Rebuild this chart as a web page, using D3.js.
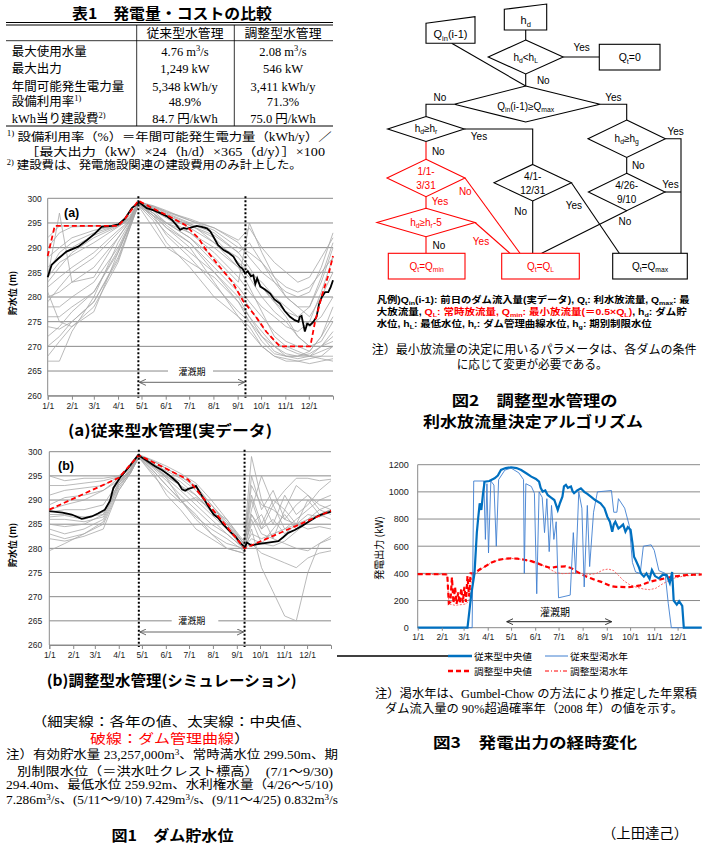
<!DOCTYPE html>
<html><head><meta charset="utf-8">
<script src="https://cdn.jsdelivr.net/npm/d3@7"></script>
<style>body{margin:0;background:#fff}svg{display:block}</style>
</head><body>
<script>
// ---------------- DATA ----------------
const tableLabels = ["最大使用水量","最大出力","年間可能発生電力量","設備利用率^{1)}","kWh当り建設費^{2)}"];
const convValues = ["4.76 m^{3}/s","1,249 kW","5,348 kWh/y","48.9%","84.7  円/kWh"];
const adjValues  = ["2.08 m^{3}/s","546 kW","3,411 kWh/y","71.3%","75.0  円/kWh"];

const monthDays = [0,31,59,90,120,151,181,212,243,273,304,334];
const monthLabels = ["1/1","2/1","3/1","4/1","5/1","6/1","7/1","8/1","9/1","10/1","11/1","12/1"];
const levelTicks = [260,265,270,275,280,285,290,295,300];
const powerTicks = [0,200,400,600,800,1000,1200];
const irrigationDays = [116,253];

// (a) conventional (observed)
const aDays = [0,15,31,59,90,105,116,135,152,182,213,244,258,274,290,305,320,335,350,365];
const aYears = [
 [292,294.4,294.4,294.4,294.5,296,299.3,298.5,297.5,295.5,294,291,288,285,283,281,280,281,286,293],
 [290,293,294.2,294.4,294.6,296.5,299.2,298,296.5,294.5,292,287,285,282,279,277,276,278,284,291],
 [288,290,292,293.5,294.5,296.2,299,297.5,296,293,289,284,281,278,276,274,273,275,281,288],
 [286,288,290,292.5,294.5,296,298.8,297,295,292,288,283,295,289,284,280,278,276,280,285],
 [284,287,288.5,291,294.2,295.8,299,297.8,296.8,294.8,293,289,286,282,279,276,272,270,271,275],
 [282,284,286,289,293.5,295.5,299.4,298.2,297,295,291,286,282,277,272,270,269,268,268,270],
 [280,281,283,286,292,295.3,298.9,296,293,289,285,280,276,272,269,268,267.5,268,270,272],
 [278,278,280,283,290,294.8,298.6,295.5,291,286,280,276,273,270,268,267,267,267.5,268,268],
 [276,276,278,281,289,294.5,298.7,297.5,295,292,287,282,279,276,273,271,270,269,272,278],
 [274,273.5,275,279,288,294,298.5,296.5,294,291,285,279,275,271,268.5,268,268,269,272,276],
 [272,274,277,281,289.5,294.6,299.1,298,296.2,294,291,288,285,283,280,278,276,274,276,280],
 [270,272,275,279,287.5,294,299,297,294,290,283,276,274,270,268,267.5,267,266.5,267,267.5],
 [268,271,274,278,287,293.8,298.8,296.5,295,293,290,286,284,280,277,275,272,270,270,271],
 [267,267,273,280,291,295,299,297.8,296.5,294.5,292.5,289,291,287,283,280,278,278,283,290],
 [284,297,283,284,292,295.5,299,297,294.5,291,286,281,278,274,271,269.5,268.5,268,267.5,267],
 [285,289,291,293,294.5,295.8,299.3,298.3,297.2,295.5,293.5,290,289,287,284,282,281,282,285,288],
 [281,275,274,277,289,294.6,298.5,294,290,287,284,279,276,273,270,268,268,268.5,270,273],
 [279,282,285,288,293,295.5,299.2,298.4,297.3,295.8,294,291.5,294,290,287,285,283,284,288,292],
 [283,286,289,292,294.3,295.6,299.1,296.5,292.5,288,282.5,277,275,272,270,268.5,268,268,269,270]
];
const aMedDays = [0,5,13.6,24,39,50,60.6,69,82,90.4,99,107.6,117,126.7,135,144,152,159,165,169.4,174,178,184,190.8,197,203.6,208,212,218,225,231,237.6,242,246,249,252.6,256,260,263,265.6,268,272,278,284.6,290,297,303,310,316,320.8,322.5,324.8,327,329,332,335.5,340,344,347,350.8,355,359,362,365];
const aMedVals = [284,286.5,287.8,289.2,290.2,291.5,292.9,294.2,294.4,294.7,295.9,298,299.2,298,297.6,297,296.4,295.6,294.5,293.6,294,293.8,294.1,294.4,294.2,293.9,293.3,292.2,290.5,289.5,289,288.2,287,286.1,285.8,284.8,285.2,284.2,284.4,282.6,283.8,282.1,281.5,280.7,279.5,278.7,277.2,276,275.3,275,276,276.2,274.5,273,274.6,274.3,275,276,278.5,280,281,281,282,283.4];
const aRuleDays = [0,9,90,99,108,116,134,152,176,193,201,218,236,250,265,280,297,336,342,351,359,365];
const aRuleVals = [288.3,294.4,294.4,295.9,297.8,299.5,298,296.6,294.6,291.9,289.9,286.5,283.1,279.2,276.3,272.9,270,270,275,280.4,284.4,288.3];

// (b) adjusted (simulation)
const bDays = [0,20,45,70,90,105,116,135,152,170,190,210,230,252,262,275,290,305,320,335,350,365];
const bYears = [
 [288,289,290,292,294.5,296.5,299.3,297.5,296,294.5,292,288,284,280,283,282,283,284,285,286,287,288],
 [287,287,286.5,287,293.5,296,299,297,295,293,290,287,284,280.5,290,284,286,283,285,287,286.5,287.5],
 [286,286,285.5,286.5,293,296,299.2,296.5,294,291,288,285,283,280,295,288,292,286,289,291,288,287],
 [285,284.5,285,287,293.5,296.5,299.1,296,293,290,286.5,284,282,279.5,286,281,284,287,284,286,288,289],
 [284,283,284,286,293,295.5,298.8,295,292,289.5,290.5,288,285,281,299,290,285,291,287,289,292,294],
 [283,282,283,285.5,292.5,295.8,299,296.8,294.5,292,289,286,283,280,281,279,278,277,276,278,279,279.5],
 [282,281.5,282.5,284,292,295.5,298.8,295.5,291,288,284,282,280,279,284,276,271,266,265,275,281,282],
 [291,292,292.5,293,294.8,296.8,299.3,298,296.5,295,292.5,289,285.5,281,293,289,288,286,285,284,284.5,284],
 [293,293,293.5,294,294.8,297,299.4,298.2,297,295.5,293.5,290,286,281.5,291,285,290,288,293,291,289,288],
 [295,294,294.5,294.5,295,297,299.3,298,296.5,294.8,293,289,285,280.5,288,295,289,292,294.5,294.5,294,294.3],
 [279.5,281,283,285,292,295.5,298.9,296,293,290,286,283,281,280,285,287,282,288,285,290,287,286],
 [289,290.5,291,292,294,296,299.1,297.2,295.5,293.8,291,287.5,284.5,280.2,282,281,280.5,281.5,283.5,285.5,287,288],
 [287.5,288,288,289,293.8,296.2,299.2,297.6,294.5,290,287,283,280,279,287,283,282,281,280,279.5,281,282.5],
 [286.5,286.8,286,287.5,293.5,296,299,296.8,294.8,293,291,288,286,281,287,284,289,284,286,288,290,291]
];
const bMedDays = [0,17,29,42,55,63,72,78.6,83,91.6,102,115,126,137,146,154,160,167,172,176,180,184.5,190,196,202,208,213,219,225,230,236,241,247,251.6,253,256,262,270,279,288,296.7,303,309.6,318,327,336,348,356,365];
const bMedVals = [287.7,287.4,287,286.1,286.6,287.2,288,289.8,292.5,294.6,296.6,299.3,298.2,297,296.2,295.3,294.5,293.5,292.2,291.9,292.3,292.5,292.9,291.3,289.8,288.2,287,286.3,285,284.2,283.2,282.5,281.2,280.5,280,281.2,280.6,280.9,281.1,281.3,281.5,282.3,283.2,283.8,284.6,285.5,286.7,287.2,287.6];
const bRuleDays = [0,90,116,180,253,365];
const bRuleVals = [288,294.6,299.3,294.2,280,287.8];

// Fig.3 power output [day, kW]
const convMedian = [[0,0],[64,0],[69,253],[73,400],[76,700],[77.5,793],[79.7,916],[81.8,867],[84,990],[86,1075],[92,1080],[98.8,1100],[103,1120],[107,1161],[113,1175],[120,1181],[127,1175],[133,1161],[140,1135],[146,1112],[152,1095],[156,1075],[158,1030],[160.6,1002],[164,1010],[167,977],[171,960],[175.6,940],[178,900],[180,867],[183,920],[186,965],[188,1040],[190.5,1051],[193,1030],[197,1039],[199,1005],[201,990],[205,1010],[209.7,1026],[214,1000],[218,985],[222.5,965],[228,940],[235,916],[240,880],[243.7,817],[247,780],[250,707],[252,760],[254,780],[258,730],[261,744],[264,760],[267,707],[270,740],[273.6,720],[276,622],[278,523],[280,500],[284,449],[287,400],[290.7,376],[294,400],[298,360],[301,425],[305,380],[310,363],[315,390],[320,388],[324,330],[327,410],[329,200],[333,170],[336,195],[340,160],[342,0],[365,0]];
const convDry = [[0,0],[70,0],[72,1080],[85,1080],[87,650],[89,1060],[91,550],[94,1080],[98,1050],[101,600],[104,1090],[112,1160],[120,1175],[130,1140],[136,1090],[137,400],[139,1060],[146,1040],[150,990],[153,250],[156,1000],[160,960],[163,700],[166,950],[169,560],[172,900],[175,650],[178,780],[181,220],[196,240],[200,700],[203,400],[207,1000],[211,880],[214,300],[218,900],[221,450],[226,850],[231,1000],[249,1010],[252,850],[256,850],[258,950],[266,880],[272,750],[276,480],[280,410],[286,400],[290,600],[300,610],[304,570],[310,420],[318,400],[322,180],[326,0],[365,0]];
const adjMedian = [[0,395],[38,393],[40,180],[42,190],[44,370],[46,180],[48,300],[50,175],[52,260],[54,180],[56,290],[58,185],[60,300],[62,190],[64,380],[66,230],[68,400],[73,400],[80,430],[86,449],[95,480],[103,498],[112,508],[120,511],[128,508],[137,500],[146,490],[154,474],[162,455],[171,440],[178,448],[190,452],[197,440],[204,415],[210,395],[216,378],[222.5,364],[229,350],[235,339],[242,322],[248,307],[255,300],[261,300],[268,298],[274,300],[280,305],[286,312],[295,331],[303,345],[312,356],[320,366],[329,376],[338,383],[346,388],[355,390],[365,392]];
const adjDry = [[0,395],[38,390],[40,175],[48,165],[56,170],[62,175],[66,200],[70,390],[75,400],[85,445],[95,480],[105,500],[120,510],[135,503],[150,482],[162,455],[170,430],[178,405],[186,398],[194,400],[202,405],[212,398],[222,392],[230,400],[238,425],[245,432],[252,420],[258,385],[265,345],[272,318],[280,300],[290,285],[298,280],[306,290],[314,320],[322,345],[330,365],[340,378],[352,385],[365,390]];
const legendNames = ["従来型中央値","従来型渇水年","調整型中央値","調整型渇水年"];

// ---------------- HELPERS ----------------
const svg = d3.select('body').append('svg').attr('width',705).attr('height',855).style('background','#fff');
const JP = "'Noto Sans CJK JP','Noto Sans',sans-serif";
const SERIF = "'Liberation Serif','Noto Sans CJK JP',serif";
const SANS = "'Liberation Sans','Noto Sans CJK JP',sans-serif";

function rich(parent, x, y, str, o={}) {
  const size = o.size||12;
  const t = parent.append('text').attr('x',x).attr('y',y).attr('font-size',size)
    .attr('font-family',o.font||JP).attr('fill',o.fill||'#000').attr('text-anchor',o.anchor||'start');
  if (o.bold) t.attr('font-weight','bold');
  if (o.len) t.attr('textLength',o.len).attr('lengthAdjust','spacingAndGlyphs');
  if (o.rotate) t.attr('transform',`rotate(${o.rotate},${x},${y})`);
  const subK = o.subK||0.28;
  let red=false, mode=null, buf='', shift=0;
  const flush=()=>{ if(!buf) return; const ts=t.append('tspan').text(buf);
    const target = mode==='sub'? size*subK : mode==='sup'? -size*0.38 : 0;
    if (target-shift!==0) ts.attr('dy',target-shift); shift=target;
    if (mode) ts.attr('font-size',size*0.68);
    if (red) ts.attr('fill',o.alt||'#f00');
    buf=''; };
  for (let i=0;i<str.length;i++){ const c=str[i];
    if (c==='~'){flush(); red=!red;}
    else if ((c==='_'||c==='^')&&str[i+1]==='{'){flush(); mode=c==='_'?'sub':'sup'; i++;}
    else if (c==='}'&&mode){flush(); mode=null;}
    else buf+=c; }
  flush();
  return t;
}
function hline(g,x1,x2,y,w,col){return g.append('line').attr('x1',x1).attr('x2',x2).attr('y1',y).attr('y2',y).attr('stroke',col||'#000').attr('stroke-width',w||1);}
function vline(g,x,y1,y2,w,col){return g.append('line').attr('x1',x).attr('x2',x).attr('y1',y1).attr('y2',y2).attr('stroke',col||'#000').attr('stroke-width',w||1);}

const defs = svg.append('defs');
['gray','black'].forEach(c=>{
  defs.append('marker').attr('id','arr-'+c).attr('viewBox','0 0 8 8').attr('refX',7.5).attr('refY',4)
    .attr('markerWidth',7).attr('markerHeight',7).attr('orient','auto-start-reverse').attr('markerUnits','userSpaceOnUse')
    .append('path').attr('d','M0,0.5 L7.5,4 L0,7.5').attr('fill','none').attr('stroke',c==='gray'?'#555':'#222').attr('stroke-width',1);
});

// ---------------- TABLE 1 ----------------
const tb = svg.append('g');
rich(tb,172,19,'表1　発電量・コストの比較',{size:15,bold:true,anchor:'middle',len:200});
hline(tb,6,333,22.5,1.2); hline(tb,6,333,25,1); hline(tb,6,333,40.7,0.8); hline(tb,6,333,126,1);
vline(tb,136.7,25,126,0.8); vline(tb,234.3,25,126,0.8);
rich(tb,185,37.5,'従来型水管理',{size:12.5,anchor:'middle',font:SERIF,len:77});
rich(tb,283,37.5,'調整型水管理',{size:12.5,anchor:'middle',font:SERIF,len:77});
const rowY=[51.7,68.3,86,101.7,118.3];
tableLabels.forEach((s,i)=>rich(tb,11.7,rowY[i]+4.5,s,{size:12.5,font:SERIF}));
convValues.forEach((s,i)=>rich(tb,185,rowY[i]+4.5,s,{size:12.5,font:SERIF,anchor:'middle'}));
adjValues.forEach((s,i)=>rich(tb,283,rowY[i]+4.5,s,{size:12.5,font:SERIF,anchor:'middle'}));
rich(tb,6.7,140.8,'^{1)} 設備利用率（%）＝年間可能発生電力量（kWh/y）／',{size:11.5,font:SERIF,len:325});
rich(tb,25,155.8,'［最大出力（kW）×24（h/d）×365（d/y）］×100',{size:11.5,font:SERIF,len:300});
rich(tb,6.7,169,'^{2)} 建設費は、発電施設関連の建設費用のみ計上した。',{size:11.5,font:SERIF,len:295});

// ---------------- WATER LEVEL CHARTS ----------------
function waterChart(o){
  const g = svg.append('g');
  const x = d3.scaleLinear().domain([0,365]).range([o.x0,o.x1]);
  const y = d3.scaleLinear().domain([260,300]).range([o.y1,o.y0]);
  levelTicks.forEach(t=>hline(g,o.x0,o.x1,y(t),1,'#8a8a8a'));
  vline(g,o.x0,o.y0,o.y1,1,'#8a8a8a');
  const line = d3.line().x(d=>x(d[0])).y(d=>y(d[1]));
  o.years.forEach(vals=>g.append('path').datum(o.days.map((d,i)=>[d,vals[i]])).attr('d',line)
     .attr('fill','none').attr('stroke','#a8a8a8').attr('stroke-width',0.8));
  g.append('path').datum(o.medDays.map((d,i)=>[d,o.medVals[i]])).attr('d',line)
     .attr('fill','none').attr('stroke','#000').attr('stroke-width',1.8);
  g.append('path').datum(o.ruleDays.map((d,i)=>[d,o.ruleVals[i]])).attr('d',line)
     .attr('fill','none').attr('stroke','#ff0000').attr('stroke-width',1.8).attr('stroke-dasharray','5,3');
  irrigationDays.forEach(d=>vline(g,x(d),o.y0-2,o.y1+2,2,'#000').attr('stroke-dasharray','2,2'));
  const ax = g.append('g').attr('transform',`translate(${o.x0},0)`)
     .call(d3.axisLeft(y).tickValues(levelTicks).tickSize(0).tickPadding(o.pad));
  ax.select('.domain').remove();
  ax.selectAll('text').attr('font-family',SANS).attr('font-size',8.5).attr('fill','#222');
  const bx = g.append('g').attr('transform',`translate(0,${o.y1})`)
     .call(d3.axisBottom(x).tickValues(monthDays).tickFormat((d,i)=>monthLabels[i]).tickSize(4).tickPadding(3));
  bx.select('.domain').attr('stroke','#8a8a8a');
  bx.selectAll('line').attr('stroke','#8a8a8a');
  bx.selectAll('text').attr('font-family',SANS).attr('font-size',8.5).attr('fill','#222');
  rich(g,o.labX,o.labY,o.label,{size:12.5,bold:true,font:SANS});
  rich(g,16,o.ytY,'貯水位 (m)',{size:9,bold:true,anchor:'middle',rotate:-90});
  g.append('rect').attr('x',o.gap[0]).attr('width',o.gap[1]-o.gap[0]).attr('y',y(265)-6).attr('height',12).attr('fill','#fff');
  rich(g,(x(irrigationDays[0])+x(irrigationDays[1]))/2,y(265)+3.5,'灌漑期',{size:9,anchor:'middle'});
  g.append('line').attr('x1',x(irrigationDays[0])+1).attr('x2',x(irrigationDays[1])-1).attr('y1',o.arrY).attr('y2',o.arrY)
   .attr('stroke','#555').attr('stroke-width',0.9).attr('marker-start','url(#arr-gray)').attr('marker-end','url(#arr-gray)');
}
waterChart({x0:47.7,x1:333,y0:198.3,y1:395.7,pad:6,days:aDays,years:aYears,medDays:aMedDays,medVals:aMedVals,
  ruleDays:aRuleDays,ruleVals:aRuleVals,label:'(a)',labX:64,labY:216.5,ytY:293,gap:[168,213],arrY:382.3});
waterChart({x0:49.3,x1:331,y0:451.7,y1:645,pad:7,days:bDays,years:bYears,medDays:bMedDays,medVals:bMedVals,
  ruleDays:bRuleDays,ruleVals:bRuleVals,label:'(b)',labX:58,labY:469.5,ytY:545,gap:[171.7,218.3],arrY:632});

rich(svg,170,435.5,'(a)従来型水管理(実データ)',{size:15,bold:true,anchor:'middle',len:204});
rich(svg,171.7,685.5,'(b)調整型水管理(シミュレーション)',{size:15,bold:true,anchor:'middle',len:250});

rich(svg,171.7,725.5,'（細実線：各年の値、太実線：中央値、',{size:13,font:SERIF,anchor:'middle',len:280});
rich(svg,90,742.5,'~破線：ダム管理曲線~）',{size:13,font:SERIF,len:160});
rich(svg,6,759.3,'注）有効貯水量 23,257,000m^{3}、常時満水位 299.50m、期',{size:12,font:SERIF,len:332});
rich(svg,17,776,'別制限水位（＝洪水吐クレスト標高）　(7/1～9/30)',{size:12,font:SERIF,len:316});
rich(svg,6,789.3,'294.40m、最低水位 259.92m、水利権水量（4/26～5/10)',{size:12,font:SERIF,len:327});
rich(svg,6,804.3,'7.286m^{3}/s、(5/11～9/10) 7.429m^{3}/s、(9/11～4/25) 0.832m^{3}/s',{size:12,font:SERIF,len:332});
rich(svg,172.5,840.5,'図1　ダム貯水位',{size:15,bold:true,anchor:'middle',len:122});

// ---------------- FIG 2 FLOWCHART ----------------
const fc = svg.append('g');
function pl(pts,col){fc.append('polyline').attr('points',pts.map(p=>p.join(',')).join(' ')).attr('fill','none').attr('stroke',col||'#000').attr('stroke-width',1.1);}
function pg(pts,col){fc.append('polygon').attr('points',pts.map(p=>p.join(',')).join(' ')).attr('fill','#fff').attr('stroke',col||'#000').attr('stroke-width',1.1);}
function dia(cx,cy,hw,hh,col){pg([[cx,cy-hh],[cx+hw,cy],[cx,cy+hh],[cx-hw,cy]],col);}
function box(x,y,w,h,col){fc.append('rect').attr('x',x).attr('y',y).attr('width',w).attr('height',h).attr('fill','#fff').attr('stroke',col||'#000').attr('stroke-width',1.1);}
function ft(x,y,s,col,size){rich(fc,x,y+3.6,s,{size:size||10,font:SANS,anchor:'middle',fill:col||'#000'});}
const RED='#ff0000';
pl([[525.7,30],[525.7,40]]);
pl([[563.3,57],[599.3,57]]);
pl([[525.7,74],[525.7,86]]);
pl([[451.7,43.3],[525.7,86]]);
pl([[454.3,104.3],[426,104.3],[426,116.7]]);
pl([[600,104.3],[626.7,104.3],[626.7,120]]);
pl([[464.3,129],[532.7,129],[532.7,164.3]]);
pl([[426,141.5],[426,159.3]],RED);
pl([[465,178],[520,253.3]],RED);
pl([[426,196.7],[426,208.3]],RED);
pl([[475,222.5],[510,253.3]],RED);
pl([[426,236.7],[426,253.3]],RED);
pl([[532.7,201],[532.7,253.3]]);
pl([[571.4,182.7],[619.3,253.3]]);
pl([[665.4,138.7],[681,138.7],[681,253.3]]);
pl([[626.7,157.4],[626.7,173.3]]);
pl([[665,192],[681,192]]);
pl([[626.7,210.7],[541.7,253.3]]);
pg([[504.3,9.3],[546.7,4],[546.7,30],[504.3,30]]);
pg([[426,23.3],[475,16.7],[475,43.3],[426,43.3]]);
dia(525.7,57,37.5,17);
pg([[525.7,86],[600,104.3],[525.7,122],[454.3,104.3]]);
dia(426,129,38.3,12.5);
dia(426,178,39,18.7,RED);
dia(426,222.5,49,14.2,RED);
dia(532.7,182.7,38.7,18.3);
dia(626.7,138.7,38.7,18.7);
dia(626.7,192,38.3,18.7);
box(599.3,44.3,60.7,25.7);
box(388.3,253.3,76.7,25.7,RED);
box(501.7,253.3,77.6,25.7,RED);
box(612.7,253.3,74.6,25.7);
ft(525.7,20,'h_{d}',null,11);
ft(450.5,34,'Q_{in}(i-1)',null,11);
ft(525.7,57,'h_{d}<h_{L}');
ft(629.7,57,'Q_{t}=0',null,10.5);
ft(525.7,106,'Q_{in}(i-1)≥Q_{max}');
ft(426,128,'h_{d}≥h_{r}');
ft(426,171.7,'1/1-',RED); ft(426,185,'3/31',RED);
ft(426,222,'h_{d}≥h_{r}-5',RED);
ft(532.7,176.7,'4/1-'); ft(532.7,190.7,'12/31');
ft(626.7,138,'h_{d}≥h_{g}');
ft(626.7,185,'4/26-'); ft(626.7,199.3,'9/10');
ft(426.7,266,'Q_{t}=Q_{min}',RED);
ft(540.5,266,'Q_{t}=Q_{L}',RED);
ft(650,266,'Q_{t}=Q_{max}');
ft(581.7,47.7,'Yes'); ft(543.3,80,'No');
ft(440,97.7,'No'); ft(613.3,97.7,'Yes');
ft(479,136.7,'Yes'); ft(438.3,151.7,'No');
ft(465.3,191.7,'No',RED); ft(440,201.7,'Yes',RED);
ft(481,241.7,'Yes',RED); ft(439,245.7,'No');
ft(520.7,211.7,'No'); ft(573.8,205.7,'Yes');
ft(675.7,131.7,'Yes'); ft(638.3,165.7,'No');
ft(670.5,184.3,'Yes'); ft(625,221.7,'No');
rich(svg,376.7,302.8,'凡例)Q_{in}(i-1): 前日のダム流入量(実データ), Q_{t}: 利水放流量, Q_{max}: 最',{size:9,bold:true,len:313,font:SANS,subK:0.2});
rich(svg,376.7,315,'大放流量, ~Q_{L}: 常時放流量, Q_{min}: 最小放流量(＝0.5×Q_{L})~, h_{d}: ダム貯',{size:9,bold:true,len:310,font:SANS,subK:0.2});
rich(svg,376.7,327.2,'水位, h_{L}: 最低水位, h_{r}: ダム管理曲線水位, h_{g}: 期別制限水位',{size:9,bold:true,len:275,font:SANS,subK:0.2});
rich(svg,371.7,354.3,'注）最小放流量の決定に用いるパラメータは、各ダムの条件',{size:12,font:SERIF,len:325});
rich(svg,456.7,369.3,'に応じて変更が必要である。',{size:12,font:SERIF,len:151});
rich(svg,451.7,405.5,'図2　調整型水管理の',{size:15,bold:true,len:166});
rich(svg,423,427.2,'利水放流量決定アルゴリズム',{size:15,bold:true,len:220});

// ---------------- FIG 3 POWER ----------------
(function(){
  const g = svg.append('g');
  const x0=417.7, x1=701.7, y0=464.7, y1=627.7;
  const x = d3.scaleLinear().domain([0,365]).range([x0,x1]);
  const y = d3.scaleLinear().domain([0,1200]).range([y1,y0]);
  powerTicks.forEach(t=>hline(g,x0,700,y(t),1,'#8a8a8a'));
  vline(g,x0,y0,y1,1,'#8a8a8a');
  const line = d3.line().x(d=>x(d[0])).y(d=>y(d[1]));
  g.append('path').datum(adjDry).attr('d',line).attr('fill','none').attr('stroke','#ff5050').attr('stroke-width',0.9).attr('stroke-dasharray','2,1.5');
  g.append('path').datum(adjMedian).attr('d',line).attr('fill','none').attr('stroke','#ff0000').attr('stroke-width',2.2).attr('stroke-dasharray','5,3');
  g.append('path').datum(convDry).attr('d',line).attr('fill','none').attr('stroke','#3f7fd0').attr('stroke-width',0.9);
  g.append('path').datum(convMedian).attr('d',line).attr('fill','none').attr('stroke','#0070c0').attr('stroke-width',2.2);
  const ax = g.append('g').attr('transform',`translate(${x0},0)`)
     .call(d3.axisLeft(y).tickValues(powerTicks).tickFormat(d3.format('d')).tickSize(0).tickPadding(9));
  ax.select('.domain').remove();
  ax.selectAll('text').attr('font-family',SANS).attr('font-size',9).attr('fill','#222');
  const bx = g.append('g').attr('transform',`translate(0,${y1})`)
     .call(d3.axisBottom(x).tickValues(monthDays).tickFormat((d,i)=>monthLabels[i]).tickSize(3).tickPadding(3));
  bx.select('.domain').remove();
  bx.selectAll('line').attr('stroke','#8a8a8a');
  bx.selectAll('text').attr('font-family',SANS).attr('font-size',8.5).attr('fill','#222');
  rich(g,383.3,548,'発電出力 (kW)',{size:10,anchor:'middle',rotate:-90});
  rich(g,555,615.5,'灌漑期',{size:10,anchor:'middle'});
  g.append('line').attr('x1',506.7).attr('x2',611.7).attr('y1',621.7).attr('y2',621.7)
    .attr('stroke','#222').attr('stroke-width',1).attr('marker-start','url(#arr-black)').attr('marker-end','url(#arr-black)');
  hline(g,337,448,656,1.3,'#000');
  hline(g,448,472,656,2.5,'#0070c0');
  hline(g,545,568,656,1,'#3f7fd0');
  hline(g,448,470,671,2.5,'#ff0000').attr('stroke-dasharray','5,3');
  hline(g,545,568,671,1,'#ff0000').attr('stroke-dasharray','4,2,1,2');
  rich(g,474,659.5,legendNames[0],{size:9.5,len:58});
  rich(g,570,659.5,legendNames[1],{size:9.5,len:58});
  rich(g,474,674.5,legendNames[2],{size:9.5,len:58});
  rich(g,570,674.5,legendNames[3],{size:9.5,len:58});
})();
rich(svg,375,697.6,'注）渇水年は、Gumbel-Chow の方法により推定した年累積',{size:12,font:SERIF,len:322});
rich(svg,385,712.6,'ダム流入量の 90%超過確率年（2008 年）の値を示す。',{size:12,font:SERIF,len:298});
rich(svg,433,747.5,'図3　発電出力の経時変化',{size:15,bold:true,len:204});
rich(svg,602,838,'（上田達己）',{size:14,len:86});
</script>
</body></html>
